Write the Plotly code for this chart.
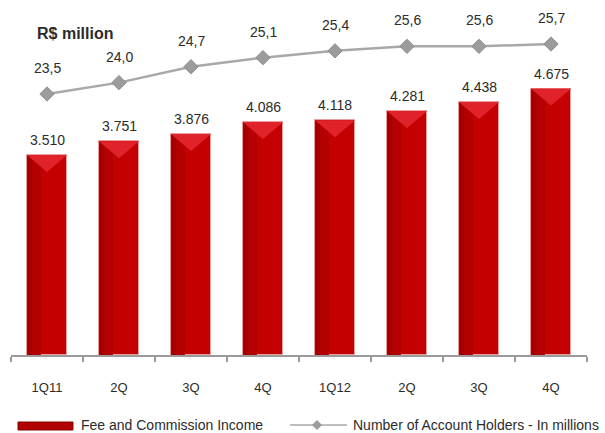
import plotly.graph_objects as go

# Quarterly figures
quarters = ["1Q11", "2Q", "3Q", "4Q", "1Q12", "2Q", "3Q", "4Q"]
fee_income = [3510, 3751, 3876, 4086, 4118, 4281, 4438, 4675]          # R$ million
account_holders = [23.5, 24.0, 24.7, 25.1, 25.4, 25.6, 25.6, 25.7]     # millions

FONT = "Liberation Sans, Arial, sans-serif"
TEXT = "#2b2b2b"

W, H = 605, 433
M = dict(l=11, r=18, t=10, b=78)
plot_w = W - M["l"] - M["r"]
plot_h = H - M["t"] - M["b"]

Y1_MAX = 6053
Y2_RANGE = [12.0, 27.2]
BAR_W = 0.56
TRI_DEPTH = 17 * Y1_MAX / plot_h   # highlight wedge depth in data units

x = list(range(len(quarters)))


def px_x(p):
    return (p - M["l"]) / plot_w


def px_y(p):
    return (H - M["b"] - p) / plot_h


fig = go.Figure()

# Fee and commission income bars
fig.add_trace(go.Bar(
    x=x, y=fee_income, width=BAR_W,
    marker=dict(color="#c40000", line=dict(color="#e8a0a0", width=1)),
    showlegend=False, hoverinfo="skip",
))
# softly shaded left side of each bar
fig.add_trace(go.Bar(
    x=x, y=fee_income, width=BAR_W * 0.34, offset=-BAR_W / 2,
    marker=dict(color="#b30000", line=dict(width=0)),
    showlegend=False, hoverinfo="skip",
))
fig.add_trace(go.Bar(
    x=x, y=fee_income, width=BAR_W * 0.12, offset=-BAR_W / 2,
    marker=dict(color="#a40000", line=dict(width=0)),
    showlegend=False, hoverinfo="skip",
))

# bevel highlight wedge on top of each bar
tx, ty = [], []
for i, v in zip(x, fee_income):
    tx += [i - BAR_W / 2, i + BAR_W / 2, i, i - BAR_W / 2, None]
    ty += [v, v, v - TRI_DEPTH, v, None]
fig.add_trace(go.Scatter(
    x=tx, y=ty, mode="lines", fill="toself", fillcolor="#e0232a",
    line=dict(width=0), showlegend=False, hoverinfo="skip",
))

# Number of account holders line
fig.add_trace(go.Scatter(
    x=x, y=account_holders, yaxis="y2", mode="lines+markers",
    line=dict(color="#a8a8a8", width=2.5),
    marker=dict(symbol="diamond", size=11, color="#9c9c9c",
                line=dict(color="#8c8c8c", width=1)),
    showlegend=False, hoverinfo="skip",
))

annotations = []
for i, v in zip(x, fee_income):
    annotations.append(dict(
        x=i, y=v, xref="x", yref="y", yshift=15, showarrow=False,
        text=f"{v:,}".replace(",", "."),
        font=dict(family=FONT, size=14, color=TEXT),
    ))
for i, v in zip(x, account_holders):
    annotations.append(dict(
        x=i, y=v, xref="x", yref="y2", yshift=26, showarrow=False,
        text=f"{v:.1f}".replace(".", ","),
        font=dict(family=FONT, size=14, color=TEXT),
    ))

# unit title
annotations.append(dict(
    x=px_x(35), y=px_y(33), xref="paper", yref="paper",
    xanchor="left", yanchor="middle", showarrow=False,
    text="<b>R$ million</b>", font=dict(family=FONT, size=16, color=TEXT),
))

# legend drawn by hand
LEG_Y = 425
annotations.append(dict(
    x=px_x(79), y=px_y(LEG_Y), xref="paper", yref="paper",
    xanchor="left", yanchor="middle", showarrow=False,
    text="Fee and Commission Income", font=dict(family=FONT, size=14, color=TEXT),
))
annotations.append(dict(
    x=px_x(351), y=px_y(LEG_Y), xref="paper", yref="paper",
    xanchor="left", yanchor="middle", showarrow=False,
    text="Number of Account Holders - In millions",
    font=dict(family=FONT, size=14, color=TEXT),
))

shapes = [
    dict(type="rect", xref="paper", yref="paper",
         x0=px_x(18), x1=px_x(73), y0=px_y(430), y1=px_y(422),
         fillcolor="#b00000", line=dict(color="#8a0000", width=1)),
    dict(type="line", xref="paper", yref="paper",
         x0=px_x(290), x1=px_x(347), y0=px_y(LEG_Y), y1=px_y(LEG_Y),
         line=dict(color="#a8a8a8", width=1.5)),
    dict(type="path", xref="paper", yref="paper",
         path=(f"M {px_x(312)} {px_y(LEG_Y)} L {px_x(317)} {px_y(LEG_Y - 5)} "
               f"L {px_x(322)} {px_y(LEG_Y)} L {px_x(317)} {px_y(LEG_Y + 5)} Z"),
         fillcolor="#9c9c9c", line=dict(width=0)),
]

fig.update_layout(
    width=W, height=H, margin=M,
    paper_bgcolor="white", plot_bgcolor="white",
    barmode="overlay", bargap=0,
    font=dict(family=FONT, size=13, color=TEXT),
    xaxis=dict(
        range=[-0.5, len(quarters) - 0.5],
        tickvals=x, ticktext=quarters, ticks="",
        tickfont=dict(family=FONT, size=13, color=TEXT),
        ticklabelstandoff=20,
        showline=True, linecolor="#9a9a9a", linewidth=1.5,
        showgrid=False, zeroline=False,
        minor=dict(tick0=-0.5, dtick=1, ticks="outside", ticklen=5,
                   tickcolor="#9a9a9a", tickwidth=1.5, showgrid=False),
    ),
    yaxis=dict(range=[0, Y1_MAX], visible=False),
    yaxis2=dict(range=Y2_RANGE, overlaying="y", visible=False),
    annotations=annotations,
    shapes=shapes,
)

fig.write_html("out.html")
